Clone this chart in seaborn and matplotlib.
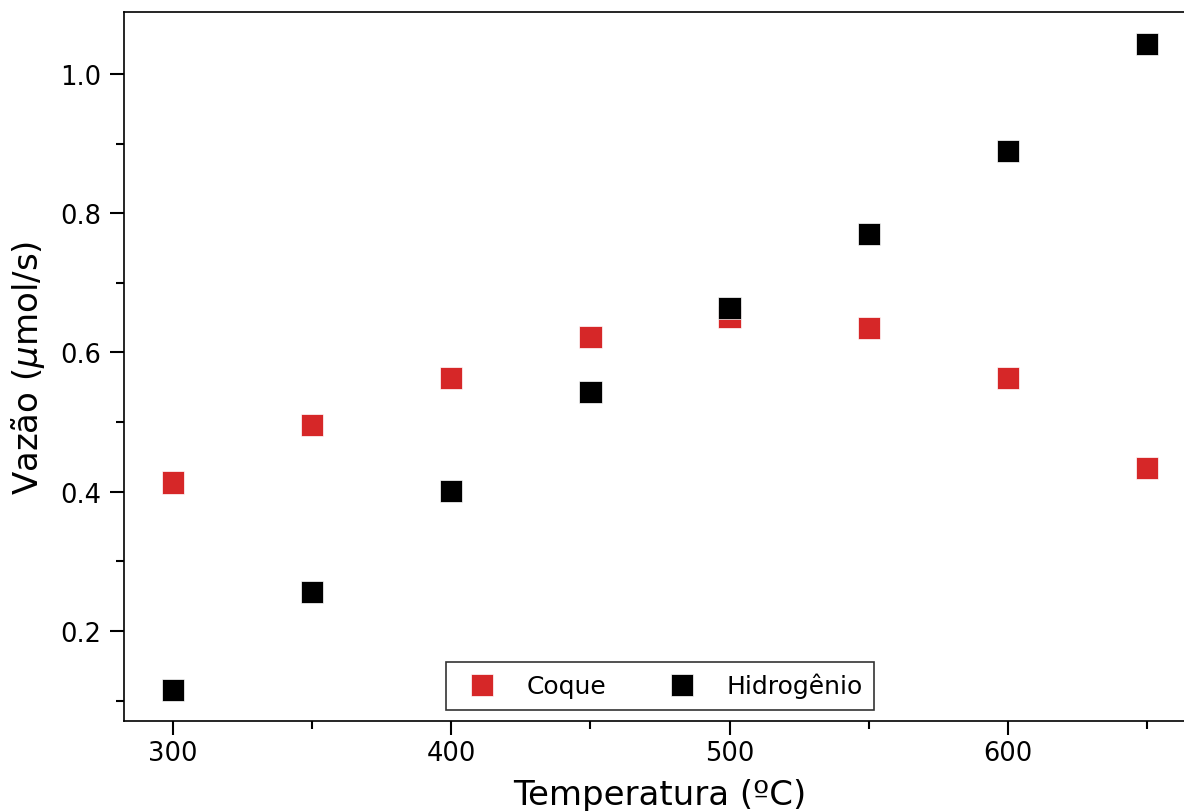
import matplotlib
matplotlib.use("Agg")
import matplotlib.pyplot as plt
import seaborn as sns
import pandas as pd
from matplotlib.ticker import MultipleLocator

temperatura = [300, 350, 400, 450, 500, 550, 600, 650]
coque = [0.413, 0.496, 0.563, 0.622, 0.651, 0.635, 0.563, 0.434]
hidrogenio = [0.115, 0.256, 0.401, 0.543, 0.664, 0.770, 0.889, 1.043]
series_names = ["Coque", "Hidrogênio"]
colors = ["#d62728", "#000000"]

df = pd.DataFrame({
    "T": temperatura * 2,
    "v": coque + hidrogenio,
    "s": [series_names[0]] * len(temperatura) + [series_names[1]] * len(temperatura),
})

sns.set_style("ticks")
plt.rcParams['font.family'] = ['DejaVu Sans']
plt.rcParams['text.color'] = 'black'
plt.rcParams['axes.labelcolor'] = 'black'
plt.rcParams['xtick.color'] = 'black'
plt.rcParams['ytick.color'] = 'black'

fig = plt.figure(figsize=(11.84, 8.12), dpi=100)
ax = fig.add_axes([124/1184, 1 - 722/812, (1196-124)/1184, (722-13)/812])

sns.scatterplot(data=df, x="T", y="v", hue="s", palette=colors, marker="s",
                s=260, edgecolor="white", linewidth=0.5, ax=ax, zorder=3)

ax.set_xlim(282.5, 667.5)
ax.set_ylim(0.0707, 1.089)
ax.xaxis.set_major_locator(MultipleLocator(100))
ax.xaxis.set_minor_locator(MultipleLocator(50))
ax.yaxis.set_major_locator(MultipleLocator(0.2))
ax.yaxis.set_minor_locator(MultipleLocator(0.1))
ax.tick_params(which="major", length=10, width=1.5, labelsize=18.5, direction="out",
               color="black", labelcolor="black")
ax.tick_params(axis="y", which="major", pad=6.5)
ax.tick_params(which="minor", length=5.5, width=1.5, direction="out", color="black")
ax.set_xlabel("Temperatura (ºC)", fontsize=24.5, color="black", labelpad=9)
ax.set_ylabel(r"Vazão ($\mu$mol/s)", fontsize=24.5, color="black", labelpad=9)
for sp in ax.spines.values():
    sp.set_linewidth(1.2)
    sp.set_color("black")

leg = ax.legend(loc="lower center", ncol=2, fontsize=18, frameon=True, fancybox=False,
                edgecolor="black", columnspacing=2.0, handletextpad=0.8,
                markerscale=1.0, borderpad=0.45, title=None, borderaxespad=0.45)
leg.get_frame().set_linewidth(1.2)
for t in leg.get_texts():
    t.set_color("black")

fig.savefig("out.png", dpi=100)
